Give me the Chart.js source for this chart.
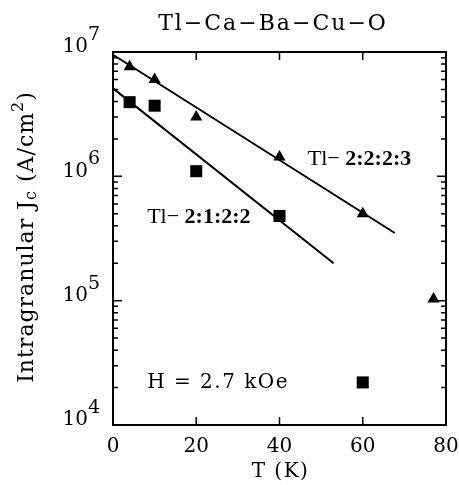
<!DOCTYPE html>
<html>
<head>
<meta charset="utf-8">
<script src="https://cdn.jsdelivr.net/npm/chart.js"></script>
<style>
  html, body { margin: 0; padding: 0; background: #fff; }
  #wrap { width: 459px; height: 485px; }
</style>
</head>
<body>
<div id="wrap"><canvas id="chart" width="459" height="485"></canvas></div>
<script>
// measured points
const temps2223 = [4, 10, 20, 40, 60, 77];
const jc2223 = [7.6e6, 6.0e6, 3.0e6, 1.43e6, 5.0e5, 1.03e5];
const temps2122 = [4, 10, 20, 40, 60];
const jc2122 = [3.95e6, 3.7e6, 1.1e6, 4.8e5, 2.2e4];

// fitted lines (end points)
const fitT2223 = [0, 67.7];
const fitJc2223 = [9.5e6, 3.5e5];
const fitT2122 = [0, 53];
const fitJc2122 = [5.1e6, 2.0e5];

// axes
const xTicks = [0, 20, 40, 60, 80];
const yTickExps = [4, 5, 6, 7];

const serif = '"DejaVu Serif", serif';
const times = '"Liberation Serif", "Times New Roman", serif';

function toPoints(xs, ys) {
  return xs.map((t, i) => ({ x: t, y: ys[i] }));
}

function drawParts(ctx, parts, x, y) {
  // parts: [text, font, dy]
  let cx = x;
  parts.forEach(p => {
    ctx.font = p[1];
    ctx.fillText(p[0], cx, y + (p[2] || 0));
    cx += ctx.measureText(p[0]).width;
  });
}

function partsWidth(ctx, parts) {
  let w = 0;
  parts.forEach(p => { ctx.font = p[1]; w += ctx.measureText(p[0]).width; });
  return w;
}

const decor = {
  id: 'decor',
  afterDraw(chart) {
    const { ctx, chartArea: a, scales: { x, y } } = chart;
    ctx.save();
    ctx.strokeStyle = '#000';
    ctx.fillStyle = '#000';

    // frame
    ctx.lineWidth = 2;
    ctx.strokeRect(a.left, a.top, a.right - a.left, a.bottom - a.top);

    // x ticks, inward top and bottom
    ctx.lineWidth = 1.5;
    ctx.beginPath();
    xTicks.forEach(t => {
      const px = x.getPixelForValue(t);
      ctx.moveTo(px, a.bottom); ctx.lineTo(px, a.bottom - 8);
      ctx.moveTo(px, a.top); ctx.lineTo(px, a.top + 8);
    });
    // y ticks, log minor + major
    yTickExps.forEach(e => {
      for (let m = 1; m <= 9; m++) {
        const v = m * Math.pow(10, e);
        if (v > 1e7) break;
        const py = y.getPixelForValue(v);
        const len = m === 1 ? 9 : 5;
        ctx.moveTo(a.left, py); ctx.lineTo(a.left + len, py);
        ctx.moveTo(a.right, py); ctx.lineTo(a.right - len, py);
      }
    });
    ctx.stroke();

    // x tick labels
    ctx.font = '20px ' + serif;
    ctx.textAlign = 'center';
    ctx.textBaseline = 'middle';
    xTicks.forEach(t => ctx.fillText(String(t), x.getPixelForValue(t), a.bottom + 22));
    ctx.letterSpacing = '1.5px';
    ctx.fillText('T (K)', (a.left + a.right) / 2 + 1, a.bottom + 47);
    ctx.letterSpacing = '0px';

    // y tick labels 10^n
    yTickExps.forEach(e => {
      const py = y.getPixelForValue(Math.pow(10, e));
      ctx.font = '20px ' + serif;
      ctx.textAlign = 'right';
      ctx.fillText('10', a.left - 25, py - 5);
      ctx.font = '19px ' + serif;
      ctx.textAlign = 'left';
      ctx.fillText(String(e), a.left - 25, py - 17);
    });

    // y title
    ctx.save();
    ctx.translate(27, 237);
    ctx.rotate(-Math.PI / 2);
    ctx.textAlign = 'left';
    ctx.letterSpacing = '1px';
    const yParts = [
      ['Intragranular J', '22px ' + serif, 0],
      ['c', '16px ' + serif, 5],
      [' (A/cm', '22px ' + serif, 0],
      ['2', '16px ' + serif, -8],
      [')', '22px ' + serif, 0]
    ];
    drawParts(ctx, yParts, -partsWidth(ctx, yParts) / 2, 0);
    ctx.restore();

    // title
    ctx.textAlign = 'center';
    ctx.font = '22px ' + serif;
    ctx.letterSpacing = '2px';
    ctx.fillText('Tl\u2212Ca\u2212Ba\u2212Cu\u2212O', 273, 24);
    ctx.letterSpacing = '0px';

    // series labels
    ctx.textAlign = 'left';
    drawParts(ctx, [['Tl\u2212 ', '22px ' + times], ['2:2:2:3', 'bold 22px ' + times]],
      x.getPixelForValue(46.8), y.getPixelForValue(1.38e6));
    drawParts(ctx, [['Tl\u2212 ', '22px ' + times], ['2:1:2:2', 'bold 22px ' + times]],
      x.getPixelForValue(8.2), y.getPixelForValue(4.7e5));
    ctx.font = '20px ' + serif;
    ctx.letterSpacing = '1.5px';
    ctx.fillText('H = 2.7 kOe', x.getPixelForValue(8.2), y.getPixelForValue(2.18e4));
    ctx.letterSpacing = '0px';

    ctx.restore();
  }
};

new Chart(document.getElementById('chart'), {
  type: 'scatter',
  data: {
    datasets: [
      {
        label: 'Tl-2:2:2:3',
        data: toPoints(temps2223, jc2223),
        pointStyle: 'triangle',
        pointRadius: 7,
        backgroundColor: '#000',
        borderColor: '#000',
        borderWidth: 0
      },
      {
        label: 'Tl-2:1:2:2',
        data: toPoints(temps2122, jc2122),
        pointStyle: 'rect',
        pointRadius: 8.5,
        backgroundColor: '#000',
        borderColor: '#000',
        borderWidth: 0
      },
      {
        label: 'fit 2223',
        type: 'line',
        data: toPoints(fitT2223, fitJc2223),
        borderColor: '#000',
        borderWidth: 2,
        pointRadius: 0,
        fill: false
      },
      {
        label: 'fit 2122',
        type: 'line',
        data: toPoints(fitT2122, fitJc2122),
        borderColor: '#000',
        borderWidth: 2,
        pointRadius: 0,
        fill: false
      }
    ]
  },
  options: {
    responsive: false,
    devicePixelRatio: 1,
    animation: false,
    clip: false,
    layout: { padding: { left: 113, right: 13, top: 52, bottom: 60 } },
    plugins: { legend: { display: false }, tooltip: { enabled: false } },
    scales: {
      x: { type: 'linear', min: 0, max: 80, display: false },
      y: { type: 'logarithmic', min: 1e4, max: 1e7, display: false }
    }
  },
  plugins: [decor]
});
</script>
</body>
</html>
